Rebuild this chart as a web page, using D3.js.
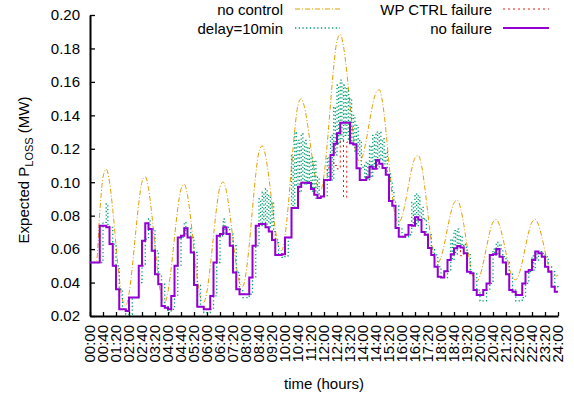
<!DOCTYPE html>
<html>
<head>
<meta charset="utf-8">
<script src="https://cdn.jsdelivr.net/npm/d3@7"></script>
<style>
  body { margin: 0; background: #fff; }
  svg { font-family: "Liberation Sans", Arial, Helvetica, sans-serif; }
</style>
</head>
<body>
<svg id="chart" width="574" height="403"></svg>
<script>

// expected loss (MW), one value every 10 minutes, 00:00 .. 24:00
var noControl = [
  0.052,0.052,0.053,0.082,0.103,0.1078,0.1002,0.0837,0.0627,0.0429,0.0295,0.0262,
  0.0334,0.049,0.0688,0.0875,0.1002,0.1033,0.0963,0.0811,0.0617,0.0434,0.0311,0.028,
  0.0346,0.0489,0.0671,0.0843,0.0959,0.0988,0.0922,0.0779,0.0598,0.0426,0.0311,0.0282,
  0.0349,0.0494,0.068,0.0854,0.0972,0.1001,0.0943,0.0817,0.0656,0.0504,0.0402,0.0377,
  0.0456,0.0626,0.0842,0.1046,0.1184,0.1218,0.116,0.1033,0.0872,0.072,0.0617,0.0592,
  0.0677,0.086,0.1093,0.1313,0.1461,0.1499,0.1448,0.1338,0.1198,0.1066,0.0977,0.0954,
  0.1042,0.123,0.1469,0.1694,0.1846,0.1884,0.1813,0.166,0.1464,0.128,0.1156,0.1125,
  0.1164,0.1251,0.1362,0.1466,0.1536,0.1553,0.1479,0.1318,0.1113,0.092,0.0789,0.0757,
  0.0794,0.0876,0.098,0.1079,0.1145,0.1161,0.1101,0.0971,0.0805,0.0649,0.0543,0.0517,
  0.0551,0.0627,0.0724,0.0815,0.0877,0.0892,0.0847,0.0748,0.0623,0.0506,0.0426,0.0406,
  0.0441,0.0516,0.0611,0.0701,0.0762,0.0777,0.0743,0.067,0.0577,0.049,0.0431,0.0416,
  0.045,0.0523,0.0616,0.0703,0.0762,0.0777,0.0745,0.0676,0.0588,0.0506,0.045,0.0436,
  0.0445
];

var noFailure = [
  0.052,0.052,0.052,0.074,0.074,0.073,0.063,0.050,0.036,0.024,0.024,0.023,
  0.031,0.031,0.031,0.050,0.065,0.0755,0.072,0.059,0.045,0.039,0.026,0.025,
  0.024,0.032,0.050,0.067,0.068,0.0725,0.067,0.058,0.0385,0.0256,0.0256,0.024,
  0.024,0.032,0.052,0.068,0.069,0.073,0.069,0.062,0.046,0.036,0.033,0.033,
  0.033,0.043,0.062,0.074,0.075,0.075,0.073,0.0705,0.0655,0.0565,0.0565,0.057,
  0.067,0.067,0.0846,0.0846,0.0973,0.0997,0.0997,0.0995,0.096,0.0925,0.0905,0.0915,
  0.1013,0.1013,0.1163,0.123,0.1293,0.1356,0.1356,0.1356,0.1233,0.1225,0.1083,0.1013,
  0.1013,0.103,0.1093,0.108,0.1133,0.111,0.1085,0.1045,0.0888,0.086,0.0726,0.0674,
  0.0674,0.0686,0.0744,0.074,0.079,0.0775,0.0703,0.0686,0.0607,0.0565,0.0495,0.0435,
  0.043,0.0467,0.0535,0.057,0.0605,0.0618,0.061,0.0575,0.0465,0.0455,0.0355,0.0325,
  0.0325,0.0355,0.0395,0.0565,0.057,0.060,0.0555,0.052,0.045,0.0355,0.0345,0.0325,
  0.0325,0.0395,0.0465,0.0475,0.0535,0.0585,0.0575,0.0555,0.0495,0.0465,0.0375,0.0345,
  0.0345
];

var wpCtrlFailure = [
  0.052,0.052,0.052,0.074,0.074,0.073,0.063,0.050,0.036,0.024,0.024,0.023,
  0.031,0.031,0.031,0.050,0.065,0.0755,0.072,0.059,0.045,0.039,0.026,0.025,
  0.024,0.032,0.050,0.067,0.068,0.0725,0.067,0.058,0.0385,0.0256,0.0256,0.024,
  0.024,0.032,0.052,0.068,0.069,0.073,0.069,0.062,0.046,0.036,0.033,0.033,
  0.033,0.043,0.062,0.074,0.075,0.075,0.073,0.0705,0.0655,0.0565,0.0565,0.057,
  0.067,0.067,0.0846,0.0846,0.0973,0.0997,0.0997,0.0995,0.096,0.0925,0.0905,0.0915,
  0.1013,0.109,0.112,0.110,0.108,0.125,0.091,0.124,0.1233,0.1225,0.1083,0.1013,
  0.1013,0.103,0.1093,0.108,0.1133,0.111,0.1085,0.1045,0.0888,0.086,0.0726,0.0674,
  0.0674,0.0686,0.0744,0.074,0.079,0.0775,0.0703,0.0686,0.0607,0.0565,0.0495,0.0435,
  0.043,0.0467,0.0535,0.057,0.0605,0.0618,0.056,0.0575,0.0465,0.0455,0.0355,0.0325,
  0.0325,0.0355,0.0395,0.0565,0.057,0.060,0.0555,0.052,0.045,0.0355,0.0345,0.0325,
  0.0325,0.0395,0.0465,0.0475,0.0535,0.0585,0.0575,0.0555,0.0495,0.0465,0.0375,0.0345,
  0.0345
];

// delay=10min, one value every 5 minutes
var delay10 = [
  0.052,0.052,0.052,0.052,0.052,0.052,0.052,0.052,0.076,0.076,0.087,0.074,0.073,0.073,0.063,0.063,0.050,0.050,0.036,0.036,0.024,0.024,0.021,0.021,
  0.021,0.021,0.031,0.031,0.031,0.031,0.040,0.040,0.050,0.050,0.066,0.066,0.078,0.072,0.072,0.072,0.059,0.059,0.045,0.045,0.039,0.039,0.026,0.026,
  0.022,0.022,0.024,0.024,0.032,0.032,0.050,0.050,0.067,0.067,0.076,0.068,0.0725,0.0725,0.067,0.067,0.058,0.058,0.0385,0.0385,0.0256,0.0256,0.022,0.022,
  0.022,0.022,0.024,0.024,0.032,0.032,0.052,0.052,0.068,0.068,0.078,0.069,0.073,0.073,0.069,0.069,0.062,0.062,0.046,0.046,0.036,0.036,0.031,0.031,
  0.031,0.031,0.033,0.033,0.043,0.043,0.062,0.062,0.090,0.074,0.094,0.075,0.096,0.075,0.092,0.073,0.088,0.0705,0.0655,0.0655,0.0565,0.0565,0.055,0.055,
  0.056,0.056,0.067,0.067,0.116,0.085,0.130,0.097,0.125,0.094,0.129,0.099,0.125,0.099,0.121,0.100,0.115,0.094,0.113,0.0905,0.103,0.0905,0.0915,0.0915,
  0.0915,0.0915,0.115,0.1013,0.128,0.1013,0.145,0.1163,0.158,0.123,0.161,0.125,0.158,0.128,0.156,0.125,0.150,0.123,0.140,0.118,0.134,0.116,0.125,0.108,
  0.110,0.1013,0.112,0.1013,0.122,0.103,0.128,0.1093,0.130,0.108,0.130,0.1133,0.126,0.111,0.118,0.1045,0.105,0.0995,0.095,0.0888,0.086,0.086,0.0726,0.0726,
  0.0674,0.0674,0.0674,0.0674,0.0686,0.0686,0.088,0.0744,0.093,0.074,0.092,0.079,0.085,0.0775,0.078,0.0703,0.0686,0.0686,0.0607,0.0607,0.0565,0.0565,0.0495,0.0495,
  0.0435,0.0435,0.043,0.043,0.0467,0.0467,0.066,0.0535,0.071,0.057,0.072,0.0605,0.068,0.0618,0.063,0.061,0.0575,0.0575,0.0465,0.0465,0.0455,0.0455,0.0355,0.0355,
  0.029,0.029,0.029,0.029,0.0355,0.0355,0.0395,0.0395,0.060,0.0565,0.064,0.057,0.063,0.060,0.0555,0.0555,0.052,0.052,0.045,0.045,0.0355,0.0355,0.029,0.029,
  0.029,0.029,0.031,0.031,0.0395,0.0395,0.0465,0.0465,0.056,0.0475,0.058,0.0535,0.058,0.0585,0.0575,0.0575,0.0555,0.0555,0.0495,0.0495,0.0465,0.0465,0.0375,0.0375,
  0.036
];

var seriesNames = ["no control", "delay=10min", "WP CTRL failure", "no failure"];
var yTicks = [0.02, 0.04, 0.06, 0.08, 0.10, 0.12, 0.14, 0.16, 0.18, 0.20];
var xTickMinutes = d3.range(0, 1441, 40);
var xTickLabels = ["00:00","00:40","01:20","02:00","02:40","03:20","04:00","04:40","05:20",
  "06:00","06:40","07:20","08:00","08:40","09:20","10:00","10:40","11:20","12:00","12:40",
  "13:20","14:00","14:40","15:20","16:00","16:40","17:20","18:00","18:40","19:20","20:00",
  "20:40","21:20","22:00","22:40","23:20","24:00"];

var svg = d3.select("#chart");

var x = d3.scaleLinear().domain([0, 1440]).range([90, 558]);
var y = d3.scaleLinear().domain([0.02, 0.20]).range([316, 15]);

var styles = [
  { data: noControl,     step: 10, color: "#e69f00", width: 1,   dash: "5,2,1,2", curve: d3.curveMonotoneX },
  { data: delay10,       step: 5,  color: "#009e73", width: 1.3, dash: "1.3,2.4", curve: d3.curveStepAfter },
  { data: wpCtrlFailure, step: 10, color: "#e51e10", width: 1,   dash: "2,3",     curve: d3.curveStepAfter },
  { data: noFailure,     step: 10, color: "#9400d3", width: 2,   dash: null,      curve: d3.curveStepAfter }
];

// axes
var xAxis = d3.axisBottom(x)
  .tickValues(xTickMinutes)
  .tickSize(-4)
  .tickSizeOuter(0)
  .tickFormat(function(d, i){ return xTickLabels[i]; });

var gx = svg.append("g")
  .attr("transform", "translate(0,316)")
  .call(xAxis);

gx.selectAll("text")
  .attr("transform", "rotate(-90)")
  .attr("x", -9)
  .attr("y", 0)
  .attr("dy", "0.3em")
  .style("text-anchor", "end");

var yAxis = d3.axisLeft(y)
  .tickValues(yTicks)
  .tickSize(-5)
  .tickSizeOuter(0)
  .tickPadding(10)
  .tickFormat(d3.format(".2f"));

var gy = svg.append("g")
  .attr("transform", "translate(90,0)")
  .call(yAxis);

svg.selectAll(".tick text")
  .attr("fill", "#000")
  .style("font-size", "15px")
  .style("font-family", "'Liberation Sans', Arial, sans-serif");
svg.selectAll(".domain").attr("stroke", "#000").attr("stroke-width", 2);
svg.selectAll(".tick line").attr("stroke", "#000").attr("stroke-width", 1.3);

// series
styles.forEach(function(s){
  var line = d3.line()
    .x(function(d, i){ return x(i * s.step); })
    .y(function(d){ return y(d); })
    .curve(s.curve);
  svg.append("path")
    .datum(s.data)
    .attr("fill", "none")
    .attr("stroke", s.color)
    .attr("stroke-width", s.width)
    .attr("stroke-dasharray", s.dash)
    .attr("d", line);
});

// legend
var legendPos = [
  { tx: 283, ly: 9,  x0: 295, x1: 340 },
  { tx: 283, ly: 28, x0: 295, x1: 340 },
  { tx: 492, ly: 9,  x0: 503, x1: 549 },
  { tx: 492, ly: 28, x0: 503, x1: 549 }
];

seriesNames.forEach(function(name, i){
  var p = legendPos[i], s = styles[i];
  svg.append("text")
    .attr("x", p.tx)
    .attr("y", p.ly + 5.5)
    .attr("text-anchor", "end")
    .style("font-size", "15px")
    .text(name);
  svg.append("line")
    .attr("x1", p.x0).attr("x2", p.x1)
    .attr("y1", p.ly).attr("y2", p.ly)
    .attr("stroke", s.color)
    .attr("stroke-width", s.width)
    .attr("stroke-dasharray", s.dash);
});

// axis titles
var yt = svg.append("text")
  .attr("transform", "translate(29,170) rotate(-90)")
  .attr("text-anchor", "middle")
  .style("font-size", "15px");
yt.append("tspan").text("Expected P");
yt.append("tspan").attr("dy", 4).style("font-size", "11px").text("LOSS");
yt.append("tspan").attr("dy", -4).text(" (MW)");

svg.append("text")
  .attr("x", 324)
  .attr("y", 389)
  .attr("text-anchor", "middle")
  .style("font-size", "15px")
  .text("time (hours)");

</script>
</body>
</html>
